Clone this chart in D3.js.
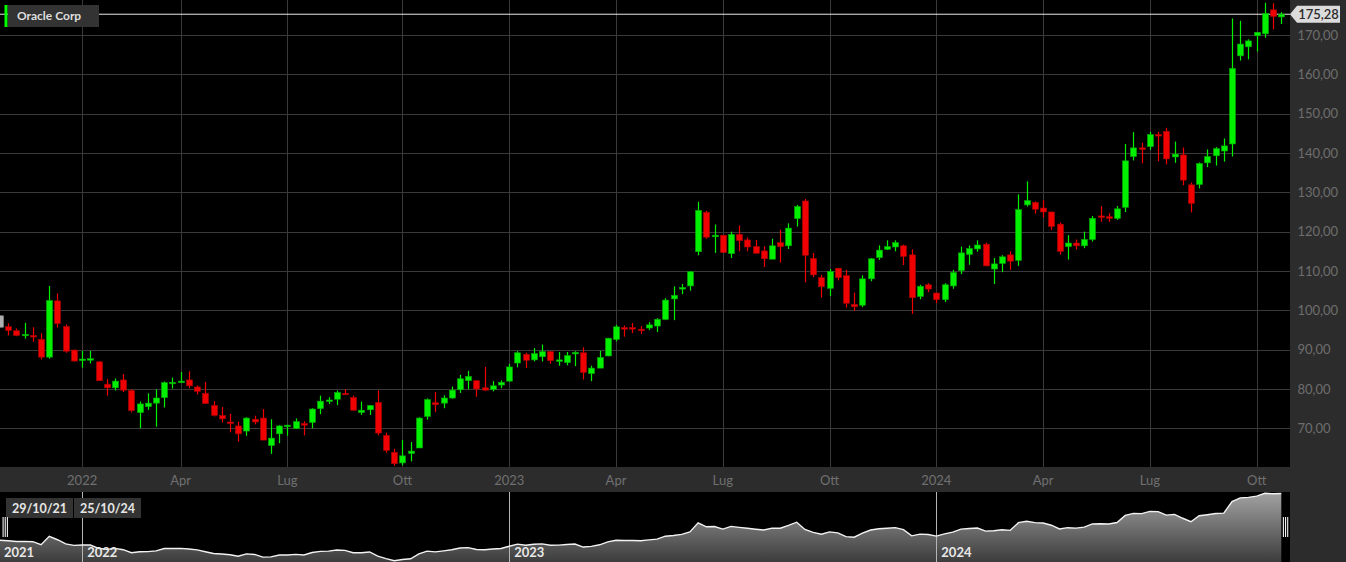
<!DOCTYPE html>
<html><head><meta charset="utf-8">
<script src="https://cdn.jsdelivr.net/npm/d3@7"></script>
<style>html,body{margin:0;padding:0;background:#000;overflow:hidden}svg{display:block;font-family:Lato,"Open Sans",sans-serif}</style>
</head><body><svg id="c" width="1346" height="562"></svg>
<script>
// ---- DATA (weekly candles, Fridays, 29/10/21 .. 25/10/24) ----
const seriesName = "Oracle Corp";
const firstDate = "2021-10-29";
const lastDate = "2024-10-25";
const opens = [98.6,95.85,94.8,93.6,93.6,92.6,88.1,102.4,95.9,89.9,
87.4,87.4,86.9,81.2,80.3,82.3,79.6,74.0,75.5,76.4,
77.8,81.4,81.6,82.3,80.5,78.9,75.8,73.25,71.6,70.6,
69.3,72.3,72.6,65.6,68.6,70.4,69.9,71.2,71.5,75.0,
76.9,77.4,78.9,77.8,74.0,74.7,76.6,68.2,63.9,61.2,
63.6,65.0,73.0,76.5,76.4,77.7,79.8,82.1,82.1,80.3,
79.9,81.0,82.0,86.6,88.8,87.4,88.2,89.5,87.0,86.7,
89.1,89.2,83.9,85.3,88.4,92.6,95.6,95.6,95.2,95.5,
96.0,97.7,102.9,105.4,106.2,114.9,124.9,118.7,119.1,114.4,
119.3,117.9,116.2,115.1,113.0,117.2,116.4,123.3,127.8,113.2,
108.3,105.6,110.7,108.8,101.5,101.3,108.0,113.4,115.5,116.1,
116.4,114.1,103.5,106.5,104.4,102.7,106.2,110.1,114.2,115.6,
116.8,110.5,111.9,114.1,112.7,126.8,127.4,126.0,125.0,121.9,
116.2,117.1,116.4,118.0,124.0,123.8,123.4,126.2,139.1,141.3,
141.6,144.7,145.5,139.0,139.5,131.9,132.0,137.5,139.3,140.5,
142.3,164.7,167.0,169.8,170.3,176.4,174.6];
const highs = [98.6,96.7,95.4,96.8,95.7,94.2,106.2,104.3,96.4,90.0,
89.7,89.7,87.0,82.5,82.7,83.8,79.9,76.8,78.9,79.9,
81.9,82.9,84.3,84.5,80.9,81.8,76.9,75.4,73.7,71.7,
72.8,73.2,74.9,72.3,70.8,70.9,72.5,71.8,75.1,78.3,
77.9,79.6,80.0,78.3,76.8,75.9,79.6,68.9,64.8,67.0,
66.5,72.8,77.6,79.2,78.4,80.6,83.6,84.6,82.2,85.6,
82.0,82.2,86.4,89.6,89.2,90.4,91.3,89.6,89.4,89.4,
89.6,90.6,85.9,89.7,93.0,96.3,96.1,96.8,96.0,97.0,
98.0,103.1,106.1,106.7,110.0,127.6,125.3,121.8,119.2,120.0,
121.6,118.5,117.9,116.3,118.2,120.5,122.1,126.8,128.3,114.6,
109.0,110.5,110.8,110.3,104.5,108.9,113.3,116.5,117.8,117.8,
116.7,115.5,106.5,106.9,104.5,106.9,110.3,116.2,116.5,117.8,
117.2,113.3,114.0,115.0,129.5,132.8,127.7,128.0,125.1,122.3,
119.1,118.0,120.0,124.0,126.5,124.7,126.5,142.3,145.3,142.6,
145.4,145.4,146.4,142.9,141.4,132.5,137.6,140.9,141.5,143.7,
174.2,173.6,168.9,170.7,178.2,178.1,175.8];
const lows = [95.7,93.6,93.4,92.8,92.0,87.5,87.7,95.6,89.2,87.0,
85.4,86.5,82.0,78.3,79.6,79.2,74.1,70.0,74.7,70.4,
75.3,80.1,81.6,80.2,78.6,76.2,73.0,71.5,69.0,66.6,
68.1,71.0,67.0,63.5,66.2,68.1,69.8,68.2,70.0,73.6,
76.2,75.9,78.6,74.5,73.4,73.4,68.2,63.8,60.5,60.6,
61.6,65.0,72.2,74.1,75.1,77.5,79.0,79.9,78.0,79.5,
79.4,80.2,81.8,85.5,85.3,87.0,87.0,86.4,85.9,86.0,
85.8,82.4,82.0,85.3,88.3,92.1,93.3,94.2,94.0,95.0,
94.5,97.5,97.5,104.1,105.0,114.0,118.2,114.6,114.6,113.3,
115.0,115.0,114.5,111.0,113.0,112.1,115.6,121.3,107.1,108.4,
103.3,103.6,107.6,100.7,99.8,100.8,107.4,112.8,115.3,115.0,
111.5,99.1,102.8,104.6,101.8,102.1,105.5,109.2,111.6,114.9,
111.2,106.7,109.7,110.3,111.3,126.4,124.6,123.6,120.4,114.2,
112.9,115.5,115.8,117.5,122.5,122.5,123.0,125.0,138.1,137.4,
140.8,137.9,137.1,137.5,131.8,124.9,131.0,136.4,136.8,137.8,
139.1,163.5,163.8,165.8,169.3,171.4,172.8];
const closes = [95.7,94.9,93.6,93.9,93.3,88.1,102.5,96.6,89.6,87.1,
87.6,87.7,82.1,80.3,82.0,79.7,74.5,76.2,76.4,77.7,
81.6,81.7,82.0,80.8,79.4,76.3,73.3,72.4,71.2,68.6,
72.6,71.6,67.0,67.5,70.6,70.8,71.7,70.8,74.9,76.9,
77.2,79.1,78.6,74.6,74.6,75.8,68.8,64.4,61.0,63.0,
64.2,72.6,77.3,76.0,77.7,79.7,82.6,83.2,80.0,79.7,
80.8,81.7,85.6,89.2,87.3,89.0,89.5,87.2,87.4,88.5,
89.3,84.2,85.3,88.0,92.9,95.8,95.2,95.3,94.8,96.3,
97.7,102.6,103.8,105.8,109.8,125.4,118.6,119.1,114.7,119.3,
117.7,116.1,114.5,113.1,116.4,116.2,120.9,126.4,114.0,109.0,
106.0,109.9,108.3,101.8,100.9,108.0,113.1,115.3,116.2,117.2,
113.7,103.2,106.1,105.4,102.7,106.5,109.6,114.6,115.7,116.6,
111.3,111.8,113.6,112.5,125.6,127.9,125.7,125.0,121.3,115.0,
117.1,116.4,118.0,123.4,123.8,123.4,125.8,138.0,141.3,140.9,
144.7,144.3,138.5,139.7,133.1,127.2,137.3,139.1,141.1,141.8,
161.5,167.7,168.5,170.7,175.5,174.7,175.28];
const lastValueLabel = "175,28";
const yTickValues = [70,80,90,100,110,120,130,140,150,160,170];
const yTickLabels = ["70,00","80,00","90,00","100,00","110,00","120,00","130,00","140,00","150,00","160,00","170,00"];
const xTickDates = ["2022-01-07","2022-04-01","2022-07-01","2022-10-07","2023-01-06","2023-04-07","2023-07-07","2023-10-06","2024-01-05","2024-04-05","2024-07-05","2024-10-04"];
const xTickLabels = ["2022","Apr","Lug","Ott","2023","Apr","Lug","Ott","2024","Apr","Lug","Ott"];
const navYearDates = ["2021-10-29","2022-01-07","2023-01-06","2024-01-05"];
const navYearLabels = ["2021","2022","2023","2024"];
const rangeLabels = ["29/10/21","25/10/24"];

// ---- LAYOUT ----
const W = 1346, H = 562, plotR = 1290, plotB = 467, bandB = 492;
const parse = d3.utcParse("%Y-%m-%d");
const t0 = parse(firstDate), t1 = parse(lastDate);
const dates = closes.map((_, i) => d3.utcDay.offset(t0, 7 * i));
const data = closes.map((c, i) => ({d: dates[i], o: opens[i], h: highs[i], l: lows[i], c: c, i: i}));

const x = d3.scaleUtc().domain([t0, t1]).range([0, 1281.3]);
const y = d3.scaleLinear().domain([70, 170]).range([428.3, 35]);
const yN = d3.scaleLinear().domain([d3.min(closes), d3.max(closes)]).range([560.7, 493.3]);

const svg = d3.select("#c");
svg.append("rect").attr("width", W).attr("height", H).attr("fill", "#000");
const defs = svg.append("defs");
defs.append("clipPath").attr("id", "plotClip").append("rect").attr("x", 0).attr("y", 0).attr("width", plotR).attr("height", plotB);
const grad = defs.append("linearGradient").attr("id", "navGrad").attr("gradientUnits", "userSpaceOnUse")
  .attr("x1", 0).attr("y1", 493).attr("x2", 0).attr("y2", 562);
grad.append("stop").attr("offset", 0).attr("stop-color", "#a2a2a2");
grad.append("stop").attr("offset", 1).attr("stop-color", "#3c3c3c");

// grid
const grid = svg.append("g");
grid.selectAll("line.h").data(yTickValues).join("line")
  .attr("x1", 0).attr("x2", plotR).attr("y1", d => Math.round(y(d)) + 0.5).attr("y2", d => Math.round(y(d)) + 0.5)
  .attr("stroke", "#3a3a3a").attr("stroke-width", 1);
grid.selectAll("line.v").data(xTickDates).join("line")
  .attr("x1", d => Math.round(x(parse(d))) + 0.5).attr("x2", d => Math.round(x(parse(d))) + 0.5)
  .attr("y1", 0).attr("y2", plotB)
  .attr("stroke", "#3a3a3a").attr("stroke-width", 1);

// last value line
svg.append("line").attr("x1", 0).attr("x2", plotR).attr("y1", y(175.28)).attr("y2", y(175.28))
  .attr("stroke", "#e6e6e6").attr("stroke-width", 1);

// candles
const cg = svg.append("g").attr("clip-path", "url(#plotClip)");
const colorOf = d => d.i === 0 ? "#b0b0b0" : (d.c >= d.o ? "#00f000" : "#f00000");
const strokeOf = d => d.i === 0 ? "#8a8a8a" : (d.c >= d.o ? "#00a800" : "#a80000");
const bw = 6;
const cand = cg.selectAll("g.c").data(data).join("g");
cand.append("line")
  .attr("x1", d => Math.round(x(d.d)) + 0.5).attr("x2", d => Math.round(x(d.d)) + 0.5)
  .attr("y1", d => y(d.h)).attr("y2", d => y(d.l))
  .attr("stroke", colorOf).attr("stroke-width", 1.2);
cand.append("rect")
  .attr("x", d => Math.round(x(d.d)) - bw / 2 + 0.5)
  .attr("width", bw)
  .attr("y", d => Math.min(y(d.o), y(d.c)))
  .attr("height", d => Math.max(1.5, Math.abs(y(d.o) - y(d.c))))
  .attr("fill", colorOf).attr("stroke", strokeOf).attr("stroke-width", 0.6);

// right panel + bottom axis band
svg.append("rect").attr("x", 0).attr("y", plotB).attr("width", plotR).attr("height", bandB - plotB).attr("fill", "#2c2c2c");
svg.append("rect").attr("x", plotR).attr("y", 0).attr("width", W - plotR).attr("height", H).attr("fill", "#2c2c2c");

// y labels
svg.append("g").selectAll("text").data(yTickValues).join("text")
  .attr("x", 1297.5).attr("y", d => y(d)).attr("dy", "0.36em")
  .attr("fill", "#6e6e6e").attr("font-size", 13).text((d, i) => yTickLabels[i]);

// x labels
svg.append("g").selectAll("text").data(xTickDates).join("text")
  .attr("x", d => x(parse(d))).attr("y", 480).attr("dy", "0.36em").attr("text-anchor", "middle")
  .attr("fill", "#707070").attr("font-size", 13).text((d, i) => xTickLabels[i]);

// last value tag
const ly = y(175.28);
svg.append("path").attr("d", `M${plotR},${ly} L1297,${ly - 8.5} L1340,${ly - 8.5} L1340,${ly + 8.5} L1297,${ly + 8.5} Z`).attr("fill", "#dcdcdc");
svg.append("text").attr("x", 1318.5).attr("y", ly).attr("dy", "0.36em").attr("text-anchor", "middle")
  .attr("fill", "#2a2a2a").attr("font-size", 13).attr("font-weight", 600).text(lastValueLabel);

// legend
svg.append("rect").attr("x", 8).attr("y", 5).attr("width", 91).attr("height", 22).attr("fill", "#333");
svg.append("rect").attr("x", 4.5).attr("y", 5).attr("width", 3).attr("height", 22).attr("fill", "#00ff00");
svg.append("text").attr("x", 17).attr("y", 16).attr("dy", "0.36em").attr("fill", "#dedede")
  .attr("font-size", 12).attr("font-weight", 700).text(seriesName);

// navigator
const nav = svg.append("g");
const navClip = defs.append("clipPath").attr("id", "navClip");
navClip.append("rect").attr("x", 0).attr("y", bandB).attr("width", 1282).attr("height", H - bandB);
nav.append("path").datum(data).attr("clip-path", "url(#navClip)")
  .attr("d", d3.area().x(d => x(d.d)).y0(H).y1(d => yN(d.c)))
  .attr("fill", "url(#navGrad)");
nav.selectAll("line.yr").data(navYearDates.slice(1)).join("line")
  .attr("x1", d => Math.round(x(parse(d))) + 0.5).attr("x2", d => Math.round(x(parse(d))) + 0.5)
  .attr("y1", bandB).attr("y2", H).attr("stroke", "#b5b5b5").attr("stroke-width", 1);
nav.append("path").datum(data)
  .attr("d", d3.line().x(d => x(d.d)).y(d => yN(d.c)))
  .attr("fill", "none").attr("stroke", "#f2f2f2").attr("stroke-width", 1.4);
nav.selectAll("text.yr").data(navYearDates).join("text")
  .attr("x", (d, i) => i === 0 ? 4 : x(parse(d)) + 5).attr("y", 557)
  .attr("fill", "#e8e8e8").attr("font-size", 13).attr("font-weight", 700).text((d, i) => navYearLabels[i]);

// range labels
const rl = [{x: 6, w: 67}, {x: 74, w: 67}];
rangeLabels.forEach((t, i) => {
  svg.append("rect").attr("x", rl[i].x).attr("y", 498).attr("width", rl[i].w).attr("height", 20).attr("fill", "#333");
  svg.append("text").attr("x", rl[i].x + rl[i].w / 2).attr("y", 508).attr("dy", "0.36em").attr("text-anchor", "middle")
    .attr("fill", "#e6e6e6").attr("font-size", 12.5).attr("font-weight", 700).text(t);
});

// handles
[2.5, 1282.8].forEach(hx => {
  const g = svg.append("g");
  g.append("rect").attr("x", hx).attr("y", 517).attr("width", 5.5).attr("height", 20).attr("fill", "#000");
  [0.6, 2.75, 4.9].forEach(o => g.append("line").attr("x1", hx + o).attr("x2", hx + o).attr("y1", 517).attr("y2", 537)
    .attr("stroke", "#f0f0f0").attr("stroke-width", 1.1));
});
</script></body></html>
